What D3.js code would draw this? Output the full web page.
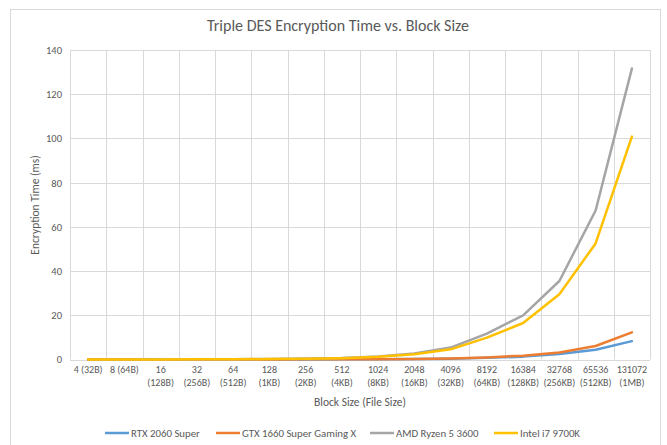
<!DOCTYPE html>
<html><head><meta charset="utf-8">
<script src="https://cdn.jsdelivr.net/npm/d3@7"></script>
<style>
body{margin:0;background:#fff;}
text{font-family:Carlito,Calibri,Lato,sans-serif;fill:#595959;}
</style></head>
<body><svg id="c" width="667" height="445"></svg>
<script>
const categories = ["4 (32B)","8 (64B)","16 (128B)","32 (256B)","64 (512B)","128 (1KB)","256 (2KB)","512 (4KB)","1024 (8KB)","2048 (16KB)","4096 (32KB)","8192 (64KB)","16384 (128KB)","32768 (256KB)","65536 (512KB)","131072 (1MB)"];
const rtx2060 = [0.01,0.01,0.01,0.02,0.02,0.03,0.05,0.08,0.12,0.2,0.35,0.75,1.3,2.5,4.4,8.3];
const gtx1660 = [0.01,0.01,0.01,0.02,0.03,0.04,0.06,0.1,0.15,0.25,0.45,0.95,1.75,3.2,6.1,12.3];
const ryzen3600 = [0.03,0.04,0.06,0.1,0.15,0.25,0.4,0.7,1.4,2.7,5.4,11.7,20.0,35.5,67.4,131.6];
const i79700k = [0.02,0.03,0.05,0.08,0.12,0.2,0.35,0.6,1.2,2.4,4.6,9.9,16.5,29.5,52.5,100.8];
const yTicks = [0,20,40,60,80,100,120,140];
const seriesNames = ["RTX 2060 Super","GTX 1660 Super Gaming X","AMD Ryzen 5 3600","Intel i7 9700K"];
const seriesColors = ["#5B9BD5","#ED7D31","#A5A5A5","#FFC000"];
const seriesData = [rtx2060, gtx1660, ryzen3600, i79700k];

const svg = d3.select("#c");
svg.append("rect").attr("x",10.5).attr("y",9.5).attr("width",650).attr("height",460)
  .attr("fill","#fff").attr("stroke","#D9D9D9");

const L=70, R=650, T=50, B=359.5;
const x = d3.scaleBand().domain(categories).range([L,R]).paddingInner(0).paddingOuter(0);
const y = d3.scaleLinear().domain([0,140]).range([B,T]);

// horizontal gridlines
svg.append("g").selectAll("line").data(yTicks).join("line")
  .attr("x1",L).attr("x2",R).attr("y1",d=>Math.round(y(d))+0.5).attr("y2",d=>Math.round(y(d))+0.5)
  .attr("stroke","#D9D9D9").attr("stroke-width",1);
// vertical gridlines at category boundaries
const bounds = categories.map(c=>x(c)).concat([R]);
svg.append("g").selectAll("line").data(bounds).join("line")
  .attr("x1",d=>Math.round(d)+0.5).attr("x2",d=>Math.round(d)+0.5).attr("y1",T).attr("y2",B)
  .attr("stroke","#D9D9D9").attr("stroke-width",1);

// y axis labels
const yAxis = d3.axisLeft(y).tickValues(yTicks).tickSize(0).tickPadding(8);
const ga = svg.append("g").attr("transform",`translate(${L},0)`).call(yAxis);
ga.select(".domain").remove();
ga.selectAll("text").style("font-size","10.5px").attr("fill","#595959");

// x axis labels
const xAxis = d3.axisBottom(x).tickSize(0).tickPadding(6);
const gx = svg.append("g").attr("transform",`translate(0,${B})`).call(xAxis);
gx.select(".domain").remove();
gx.selectAll("text").style("font-size","10px").attr("fill","#595959").each(function(d){
  const t = d3.select(this);
  if (this.getComputedTextLength() > x.bandwidth()-2) {
    const parts = d.split(" ");
    t.text(null);
    t.append("tspan").attr("x",0).attr("dy","0.71em").text(parts[0]);
    t.append("tspan").attr("x",0).attr("dy","1.3em").text(parts.slice(1).join(" "));
    t.attr("dy",null);
  }
});

// lines
const line = d3.line().x((d,i)=>x(categories[i])+x.bandwidth()/2).y(d=>y(d));
seriesData.forEach((s,k)=>{
  svg.append("path").datum(s).attr("d",line).attr("fill","none")
    .attr("stroke",seriesColors[k]).attr("stroke-width",2.5).attr("stroke-linejoin","round").attr("stroke-linecap","round");
});

// title
svg.append("text").attr("x",338).attr("y",31).attr("text-anchor","middle")
  .style("font-size","16px").text("Triple DES Encryption Time vs. Block Size");
// axis titles
svg.append("text").attr("x",360).attr("y",406).attr("text-anchor","middle")
  .style("font-size","11.5px").text("Block Size (File Size)");
svg.append("text").attr("transform","translate(39,205) rotate(-90)").attr("text-anchor","middle")
  .style("font-size","11.5px").text("Encryption Time (ms)");

// legend
const legX = [105,216,370,494];
const lg = svg.append("g");
seriesNames.forEach((n,k)=>{
  lg.append("line").attr("x1",legX[k]).attr("x2",legX[k]+24).attr("y1",433).attr("y2",433)
    .attr("stroke",seriesColors[k]).attr("stroke-width",2.5);
  lg.append("text").attr("x",legX[k]+26).attr("y",436.5).style("font-size","10.8px").text(n);
});
</script></body></html>
